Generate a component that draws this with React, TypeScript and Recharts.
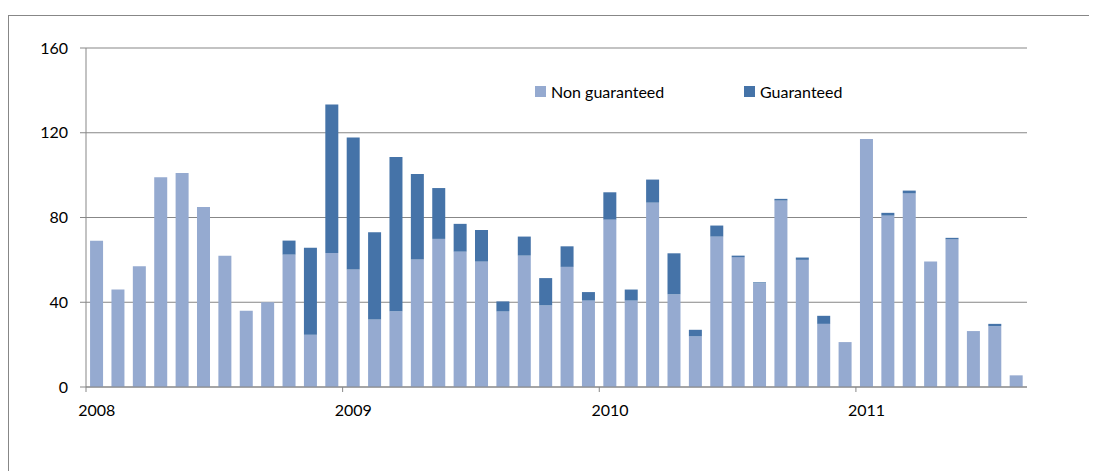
import { Bar, BarChart, CartesianGrid, Legend, XAxis, YAxis } from 'recharts';

const months = [
  'Jan 2008', 'Feb 2008', 'Mar 2008', 'Apr 2008', 'May 2008', 'Jun 2008',
  'Jul 2008', 'Aug 2008', 'Sep 2008', 'Oct 2008', 'Nov 2008', 'Dec 2008',
  'Jan 2009', 'Feb 2009', 'Mar 2009', 'Apr 2009', 'May 2009', 'Jun 2009',
  'Jul 2009', 'Aug 2009', 'Sep 2009', 'Oct 2009', 'Nov 2009', 'Dec 2009',
  'Jan 2010', 'Feb 2010', 'Mar 2010', 'Apr 2010', 'May 2010', 'Jun 2010',
  'Jul 2010', 'Aug 2010', 'Sep 2010', 'Oct 2010', 'Nov 2010', 'Dec 2010',
  'Jan 2011', 'Feb 2011', 'Mar 2011', 'Apr 2011', 'May 2011', 'Jun 2011',
  'Jul 2011', 'Aug 2011',
];

const nonGuaranteed = [
  69, 46, 57, 99, 101, 85, 62, 36, 40, 62.5, 24.7, 63.3,
  55.5, 31.9, 35.7, 60.2, 69.9, 63.9, 59.2, 35.7, 62, 38.5, 56.7, 40.8,
  79, 40.8, 87, 43.7, 23.9, 71, 61.3, 48.9, 88, 60, 29.8, 21.2,
  117, 80.9, 91.4, 59.2, 69.7, 26.4, 28.7, 5.5,
];

const guaranteed = [
  0, 0, 0, 0, 0, 0, 0, 0, 0, 6.6, 41, 70,
  62.2, 41.1, 72.8, 40.3, 24, 13.1, 14.9, 4.7, 9, 12.9, 9.7, 4,
  12.9, 5.2, 10.9, 19.4, 3.1, 5.2, 0.7, 0.5, 0.8, 1.1, 3.8, 0,
  0, 1.3, 1.3, 0, 0.7, 0, 1.1, 0,
];

const yearTicks = ['Jan 2008', 'Jan 2009', 'Jan 2010', 'Jan 2011'];
const yTicks = [0, 40, 80, 120, 160];

const series = [
  { key: 'ng', name: 'Non guaranteed', color: '#95AAD0' },
  { key: 'g', name: 'Guaranteed', color: '#4573A8' },
];

const CHART_W = 1088;
const CHART_H = 455;
const MARGIN = { top: 32, right: 70, left: 0, bottom: 54 };
const Y_AXIS_W = 77;
const X_TICK_SIZE = 5;
const X_TICK_MARGIN = 13;

const FONT = 'Lato, "Open Sans", sans-serif';
const FONT_SIZE = 16;
const GRID = '#878787';

const data = months.map((m, i) => ({
  month: m,
  ng: nonGuaranteed[i],
  g: guaranteed[i],
}));

const plotWidth = CHART_W - MARGIN.left - MARGIN.right - Y_AXIS_W;
const step = plotWidth / months.length;

function YearTick(props: any) {
  const { x, y, payload } = props;
  const axisY = y - X_TICK_SIZE - X_TICK_MARGIN;
  const lx = x - step / 2;
  return (
    <g>
      <line x1={lx} x2={lx} y1={axisY} y2={axisY + X_TICK_SIZE} stroke={GRID} />
      <text x={x} y={y} dy="0.71em" textAnchor="middle" fill="#000" fontSize={FONT_SIZE} fontFamily={FONT}>
        {String(payload.value).slice(4)}
      </text>
    </g>
  );
}

// legend built from our own series list so the order stays as in Excel
function LegendContent() {
  return (
    <div style={{ display: 'flex', fontFamily: FONT, fontSize: FONT_SIZE, color: '#000' }}>
      {series.map((s) => (
        <div key={s.key} style={{ display: 'flex', alignItems: 'center', width: 209 }}>
          <span style={{ width: 11, height: 11, background: s.color, marginRight: 5 }} />
          <span>{s.name}</span>
        </div>
      ))}
    </div>
  );
}

export default function App() {
  return (
    <div
      style={{
        marginTop: 7,
        width: 1100,
        height: 470,
        borderTop: `1px solid ${GRID}`,
        borderLeft: `1px solid ${GRID}`,
        background: '#fff',
      }}
    >
      <BarChart width={CHART_W} height={CHART_H} data={data} margin={MARGIN} barCategoryGap="19%">
        <CartesianGrid vertical={false} stroke={GRID} strokeWidth={1} />
        <XAxis
          dataKey="month"
          ticks={yearTicks}
          interval={0}
          tick={<YearTick />}
          tickLine={false}
          tickSize={X_TICK_SIZE}
          tickMargin={X_TICK_MARGIN}
          axisLine={{ stroke: GRID }}
          height={30}
        />
        <YAxis
          width={Y_AXIS_W}
          domain={[0, 160]}
          ticks={yTicks}
          tickSize={6}
          tickMargin={12}
          tickLine={{ stroke: GRID }}
          axisLine={{ stroke: GRID }}
          tick={{ fill: '#000', fontSize: FONT_SIZE, fontFamily: FONT }}
        />
        <Legend
          content={<LegendContent />}
          verticalAlign="middle"
          align="center"
          layout="horizontal"
          wrapperStyle={{ top: 66, left: 526, width: 420 }}
        />
        {series.map((s) => (
          <Bar key={s.key} dataKey={s.key} name={s.name} stackId="a" fill={s.color} isAnimationActive={false} />
        ))}
      </BarChart>
    </div>
  );
}
